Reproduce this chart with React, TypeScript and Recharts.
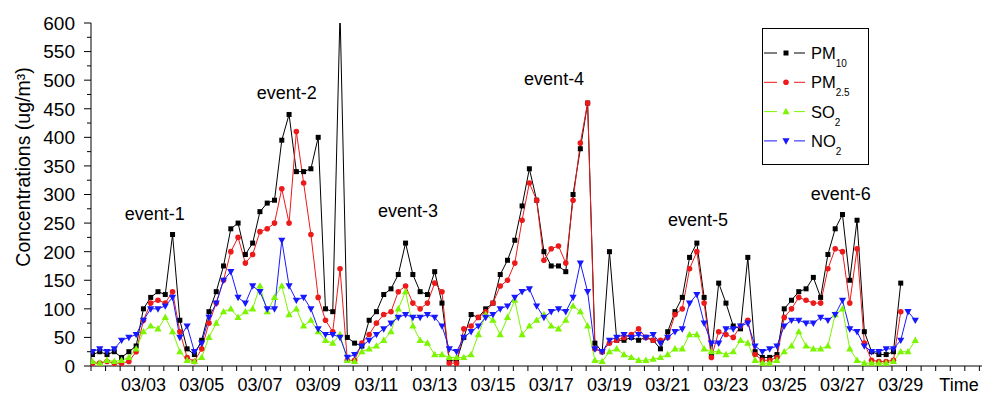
import { LineChart, Line, XAxis, YAxis, Legend, ReferenceDot } from 'recharts';

const FONT = '"Liberation Sans", Arial, Helvetica, sans-serif';

// sampled every 6 h, first point 03/01 06:00
const START_DAY = 1.25;
const STEP = 0.25;

// one row per calendar day (day 1 and day 29 are partial)
const PM10 = [
  20, 25, 20,
  25, 15, 25, 35,
  100, 120, 130, 125,
  230, 80, 30, 20,
  45, 95, 130, 175,
  240, 250, 195, 215,
  270, 285, 290, 395,
  440, 340, 340, 345,
  400, 100, 95, 620,
  50, 40, 35, 80,
  95, 125, 135, 160,
  215, 160, 130, 125,
  165, 110, 10, 8,
  50, 90, 85, 100,
  110, 160, 185, 220,
  280, 345, 290, 200,
  175, 175, 165, 300,
  380, 460, 40, 25,
  200, 45, 45, 50,
  45, 50, 45, 30,
  60, 95, 120, 190,
  215, 120, 20, 145,
  110, 70, 65, 190,
  25, 15, 15, 20,
  100, 115, 130, 135,
  155, 120, 195, 240,
  265, 150, 255, 60,
  25, 20, 20, 25,
  145, null, null,
];

const PM25 = [
  5, 5, 8,
  5, 5, 8, 25,
  80, 110, 115, 110,
  130, 60, 15, 8,
  30, 75, 110, 150,
  200, 225, 180, 195,
  235, 240, 250, 310,
  250, 410, 320, 230,
  120, 80, 60, 170,
  10, 10, 40, 55,
  75, 90, 95, 130,
  140, 110, 100, 110,
  145, 130, 5, 5,
  65, 70, 85, 95,
  110, 140, 150, 180,
  255, 320, 290, 185,
  205, 210, 180, 290,
  390, 460, 30, 25,
  40, 45, 50, 55,
  65, 50, 45, 45,
  50, 90, 100, 170,
  200, 110, 15, 60,
  55, 50, 70, 80,
  20, 10, 10, 15,
  85, 100, 120, 115,
  110, 110, 170, 205,
  200, 110, 205, 40,
  10, 8, 8, 10,
  95, null, null,
];

const SO2 = [
  8, 5, 10,
  8, 10, 15, 30,
  60, 70, 65, 85,
  60, 25, 10, 8,
  15, 50, 75, 95,
  100, 85, 95, 100,
  140, 95, 120, 140,
  90, 100, 70, 80,
  60, 45, 40, 55,
  10, 8, 25, 30,
  35, 45, 60, 100,
  130, 70, 45, 40,
  20, 20, 15, 15,
  15, 20, 55, 90,
  80, 55, 85, 115,
  55, 70, 80, 90,
  70, 65, 80, 105,
  95, 70, 10, 8,
  25, 30, 20, 15,
  10, 10, 12, 15,
  20, 30, 30, 55,
  55, 30, 25, 25,
  20, 25, 45, 40,
  10, 5, 5, 10,
  25, 35, 60, 35,
  30, 30, 35, 90,
  100, 30, 10, 5,
  5, 5, 5, 8,
  25, 25, 45,
];

const NO2 = [
  25, 30, 25,
  30, 45, 50, 55,
  80, 100, 100, 105,
  120, 50, 70, 25,
  40, 85, 110, 150,
  165, 120, 110, 140,
  130, 100, 100, 220,
  140, 115, 120, 100,
  65, 55, 55, 50,
  15, 20, 35, 45,
  55, 65, 75, 85,
  90, 85, 85, 90,
  85, 70, 30, 25,
  50, 60, 70, 85,
  90, 100, 105, 120,
  130, 135, 105, 85,
  95, 100, 95, 120,
  180, 130, 30, 25,
  45, 50, 55, 50,
  55, 50, 55, 40,
  50, 60, 65, 110,
  125, 75, 40, 40,
  65, 65, 70, 75,
  35, 25, 30, 35,
  70, 80, 80, 75,
  75, 85, 80, 90,
  115, 65, 60, 35,
  25, 25, 30, 30,
  45, 95, 80,
];

const EVENT_NAMES = ['event-1', 'event-2', 'event-3', 'event-4', 'event-5', 'event-6'];
const EVENT_DAY = [3.39, 7.92, 12.08, 17.1, 22.04, 26.94];
const EVENT_LEVEL = [266, 478, 271, 503, 256, 302];

const X_DOMAIN = [1.2, 31.79];
const X_TICKS = Array.from({ length: 62 }, (_, i) => 1.2 + i * 0.5);
const Y_TICKS = Array.from({ length: 25 }, (_, i) => i * 25);

const DAYS = PM10.map((_, i) => START_DAY + i * STEP);
const chartData = DAYS.map((day, i) => ({
  day,
  pm10: PM10[i],
  pm25: PM25[i],
  so2: SO2[i],
  no2: NO2[i],
}));

const COLORS = { pm10: '#000000', pm25: '#ec1a1a', so2: '#7cf500', no2: '#1818ff' };

const AXIS_X = 91;
const AXIS_Y = 366;

function marker(shape: string, color: string, cx: number, cy: number, key?: any) {
  if (shape === 'square') return <rect key={key} x={cx - 2.5} y={cy - 2.5} width={5} height={5} fill={color} />;
  if (shape === 'circle') return <circle key={key} cx={cx} cy={cy} r={2.8} fill={color} />;
  if (shape === 'up')
    return <polygon key={key} points={`${cx},${cy - 3.8} ${cx - 3.6},${cy + 2.6} ${cx + 3.6},${cy + 2.6}`} fill={color} />;
  return <polygon key={key} points={`${cx - 3.6},${cy - 2.6} ${cx + 3.6},${cy - 2.6} ${cx},${cy + 3.8}`} fill={color} />;
}

const makeDot = (shape: string, color: string) => (p: any) => {
  const key = `${shape}-${p.index}`;
  if (p.cx == null || p.cy == null || p.value == null) return <g key={key} />;
  return marker(shape, color, p.cx, p.cy, key);
};

const XTick = (props: any) => {
  const { x, payload } = props;
  const t = payload.value;
  const d = Math.round(t - 0.2);
  let text = '';
  if (Math.abs(t - 0.2 - d) < 1e-6) {
    if (d % 2 === 1 && d >= 3 && d <= 29) text = `03/${String(d).padStart(2, '0')}`;
    if (d === 31) text = 'Time';
  }
  return (
    <g>
      <line x1={x} x2={x} y1={AXIS_Y} y2={AXIS_Y + 5} stroke="#000" />
      {text && (
        <text x={x - 5.8} y={391} textAnchor="middle" fontSize={18} fontFamily={FONT} fill="#000">
          {text}
        </text>
      )}
    </g>
  );
};

const YTick = (props: any) => {
  const { y, payload } = props;
  const major = payload.value % 50 === 0;
  return (
    <g>
      <line x1={AXIS_X - (major ? 7 : 4)} x2={AXIS_X} y1={y} y2={y} stroke="#000" />
      {major && (
        <text x={AXIS_X - 16} y={y} dy="0.36em" textAnchor="end" fontSize={19} fontFamily={FONT} fill="#000">
          {payload.value}
        </text>
      )}
    </g>
  );
};

const YLabel = () => (
  <text
    x={23}
    y={167}
    transform="rotate(-90 23 167)"
    textAnchor="middle"
    dy="0.36em"
    fontSize={19.5}
    fontFamily={FONT}
    fill="#000"
  >
    Concentrations (ug/m³)
  </text>
);

const LEGEND_ITEMS = [
  { main: 'PM', sub: '10', shape: 'square', color: COLORS.pm10 },
  { main: 'PM', sub: '2.5', shape: 'circle', color: COLORS.pm25 },
  { main: 'SO', sub: '2', shape: 'up', color: COLORS.so2 },
  { main: 'NO', sub: '2', shape: 'down', color: COLORS.no2 },
];

const LegendBox = () => (
  <svg width={108} height={138} style={{ display: 'block' }}>
    <rect x={0.5} y={0.5} width={106} height={136} fill="#fff" stroke="#000" />
    {LEGEND_ITEMS.map((it, i) => {
      const y = 25 + i * 29.3;
      return (
        <g key={it.main + it.sub}>
          <line x1={2} x2={15} y1={y} y2={y} stroke={it.color} />
          <line x1={32} x2={43} y1={y} y2={y} stroke={it.color} />
          {marker(it.shape, it.color, 24, y)}
          <text x={49} y={y + 6} fontSize={16.5} fontFamily={FONT} fill="#000">
            {it.main}
            <tspan fontSize={10} dy={8}>
              {it.sub}
            </tspan>
          </text>
        </g>
      );
    })}
  </svg>
);

export default function App() {
  return (
    <div style={{ width: 982, height: 395, position: 'relative', background: '#fff' }}>
      <style>{'body{margin:0;}'}</style>
      <LineChart width={982} height={395} data={chartData} margin={{ top: 23, right: 0, bottom: 0, left: 0 }}>
        <XAxis
          dataKey="day"
          type="number"
          domain={X_DOMAIN}
          ticks={X_TICKS}
          interval={0}
          allowDataOverflow
          height={29}
          tickLine={false}
          axisLine={{ stroke: '#000' }}
          tick={<XTick />}
        />
        <YAxis
          type="number"
          domain={[0, 600]}
          ticks={Y_TICKS}
          interval={0}
          allowDataOverflow
          width={91}
          tickLine={false}
          axisLine={{ stroke: '#000' }}
          tick={<YTick />}
          label={<YLabel />}
        />
        <Legend
          layout="vertical"
          align="center"
          verticalAlign="middle"
          wrapperStyle={{ left: 762, top: 28, width: 108, height: 138 }}
          content={LegendBox}
        />
        <Line
          dataKey="pm10"
          stroke={COLORS.pm10}
          strokeWidth={1}
          dot={makeDot('square', COLORS.pm10)}
          isAnimationActive={false}
        />
        <Line
          dataKey="pm25"
          stroke={COLORS.pm25}
          strokeWidth={1}
          dot={makeDot('circle', COLORS.pm25)}
          isAnimationActive={false}
        />
        <Line
          dataKey="so2"
          stroke={COLORS.so2}
          strokeWidth={1}
          dot={makeDot('up', COLORS.so2)}
          isAnimationActive={false}
        />
        <Line
          dataKey="no2"
          stroke={COLORS.no2}
          strokeWidth={1}
          dot={makeDot('down', COLORS.no2)}
          isAnimationActive={false}
        />
        {EVENT_NAMES.map((name, i) => (
          <ReferenceDot
            key={name}
            x={EVENT_DAY[i]}
            y={EVENT_LEVEL[i]}
            r={0}
            fill="none"
            stroke="none"
            label={{ value: name, position: 'center', fontSize: 18, fontFamily: FONT, fill: '#000' }}
          />
        ))}
      </LineChart>
    </div>
  );
}
